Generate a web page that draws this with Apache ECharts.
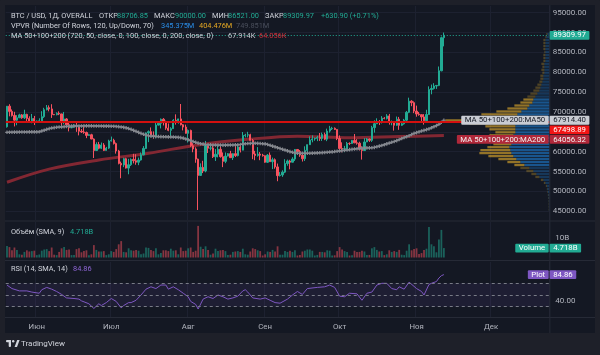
<!DOCTYPE html>
<html>
<head>
<meta charset="utf-8">
<script src="https://cdn.jsdelivr.net/npm/echarts@6/dist/echarts.min.js"></script>
<style>
html,body{margin:0;padding:0;background:#1e2029;overflow:hidden}
#chart{width:600px;height:355px}
</style>
</head>
<body>
<div id="chart"></div>
<script>
// ---------------- data ----------------
const startDay = '2024-05-20';
const axisDays = 219;
const monthNames = ['Янв','Фев','Мар','Апр','Май','Июн','Июл','Авг','Сен','Окт','Ноя','Дек'];
const priceTicks = [45000,50000,55000,60000,65000,70000,75000,80000,85000,90000,95000];
const volumeTicks = [10];
const rsiTicks = [40];
const rsiBands = [70, 50, 30];
const horizontalLevel = 67498.89;

// daily candles: [open, high, low, close]
const candles = [
[66270,71500,66060,71450],[71450,71950,68900,70140],[70140,70630,68830,69120],[69120,70040,66350,67930],
[67930,69200,66650,68530],[68530,69550,68500,69260],[69260,69480,68280,68520],[68520,70560,68240,69390],
[69390,69550,67290,68360],[68360,68900,67450,67630],[67630,69500,67150,68350],[68350,69000,66700,67490],
[67490,67850,67400,67710],[67710,68400,67300,67750],[67750,70200,67600,68800],[68800,71050,68500,70570],
[70570,71750,70400,71080],[71080,71650,70150,70760],[70760,71950,68500,69340],[69340,69500,69200,69310],
[69310,69900,69150,69650],[69650,70150,69200,69500],[69500,69550,66100,67320],[67320,70000,66900,68240],
[68240,68450,66200,66750],[66750,67300,65100,66010],[66010,66450,65900,66190],[66190,66950,66050,66640],
[66640,67250,65000,66490],[66490,66550,64100,65150],[65150,65700,64700,64960],[64960,66450,64500,64830],
[64830,65050,63400,64100],[64100,64500,63950,64260],[64260,64500,63150,63180],[63180,63350,58400,60280],
[60280,62350,60200,61800],[61800,62450,60600,60860],[60860,62300,60650,61670],[61670,62150,60150,60320],
[60320,61200,60250,60890],[60890,63000,60650,62680],
[62680,63800,62550,62850],[62850,63250,61800,62030],[62030,62300,59500,60170],[60170,60450,56800,57040],
[57040,57500,53300,56660],[56660,58450,56100,58230],[58230,58450,55750,55860],[55860,58200,54300,56710],
[56710,58300,56400,58050],[58050,59450,57050,57720],[57720,59350,56700,57340],[57340,58500,56600,57890],
[57890,59800,57750,59200],[59200,61400,59100,60800],[60800,64850,60650,64720],[64720,65350,62400,65040],
[65040,66100,63900,64090],[64090,65100,63250,63990],[63990,67400,63350,66690],[66690,67600,66600,67150],
[67150,68350,65850,68160],[68160,68450,66600,67580],[67580,67800,65500,65930],[65930,67100,65150,65370],
[65370,66150,63500,65800],[65800,68200,65750,67900],[67900,69400,66800,67810],[67810,68300,67050,68250],
[68250,72000,66600,66780],[66780,66950,65350,66190],[66190,66800,64550,64620],
[64620,65600,62300,65350],[65350,65550,61200,61500],[61500,62150,59850,60680],[60680,61100,57200,58120],
[58120,58250,45300,54020],[54020,57050,53900,56040],[56040,57700,54600,55130],[55130,62700,54800,61700],
[61700,61750,59650,60880],[60880,61450,60300,60940],[60940,61800,58400,58710],[58710,60650,57650,59350],
[59350,61550,58550,60600],[60600,61750,58500,58740],[58740,59800,56100,57560],[57560,59800,57100,58880],
[58880,59650,58800,59480],[59480,60200,58450,58480],[58480,59600,57900,59490],[59490,61400,58650,59010],
[59010,61800,58800,61160],[61160,61400,59800,60380],[60380,64950,60350,64090],[64090,64500,63600,64180],
[64180,65000,63600,64250],[64250,64500,62800,62840],[62840,63200,58100,59420],[59420,60200,57850,59040],
[59040,61150,58750,59370],[59370,59900,57850,59120],[59120,59450,58750,58970],
[58970,59050,57200,57330],[57330,59400,57150,59130],[59130,59800,57450,57480],[57480,58500,55600,57970],
[57970,58300,55700,56160],[56160,57000,52550,53960],[53960,54850,53750,54140],[54140,55300,53650,54840],
[54840,58100,54600,57020],[57020,58000,56450,57650],[57650,57950,55550,57340],[57340,58600,57300,58130],
[58130,60650,57650,60550],[60550,60650,59450,60000],[60000,60400,58700,59130],[59130,59200,57500,58210],
[58210,61350,57650,60310],[60310,61800,59250,61760],[61760,63850,61700,62950],[62950,64100,62350,63200],
[63200,63550,62750,63350],[63350,64000,62650,63580],[63580,64700,62700,63330],[63330,64800,62700,64300],
[64300,64800,62900,63140],[63140,65800,62650,65180],[65180,66500,64800,65790],[65790,66250,65450,65890],
[65890,66100,65450,65600],[65600,65650,62900,63330],
[63330,64100,60200,60800],[60800,62350,59850,60650],[60650,61450,59850,60750],[60750,62450,60500,62070],
[62070,62350,61650,62060],[62060,62950,61950,62820],[62820,64450,62150,62220],[62220,63150,61750,62130],
[62130,62500,60300,60580],[60580,61300,58000,60270],[60270,63400,60200,62440],[62440,63450,62400,63190],
[63190,63300,62450,62850],[62850,66500,62450,66050],[66050,67900,64800,67040],[67040,68400,66950,67610],
[67610,67950,66700,67370],[67370,68950,67100,68420],[68420,68700,68150,68360],[68360,69450,68100,69000],
[69000,69500,66800,67370],[67370,67850,66650,67380],[67380,67450,65300,66650],[66650,68850,66500,68160],
[68160,68750,65500,66640],[66640,67450,66500,67010],[67010,68250,66800,67930],[67930,70250,67500,69910],
[69910,73600,69700,72720],[72720,72950,71450,72340],[72340,72650,69700,70220],
[70220,71600,68800,69490],[69490,70000,69050,69320],[69320,69350,67500,68750],[68750,69450,66800,67800],
[67800,70550,67450,69360],[69360,76450,69300,75640],[75640,76900,74450,75900],[75900,77250,75650,76540],
[76540,76800,75800,76680],[76680,81450,76500,80370],[80370,89000,80250,88706.85],[88706.85,90000,86521,89309.97]
];

// daily volume, billions
const volumes = [
5.8,5.2,3.6,5.0,3.8,1.6,1.4,2.8,3.6,3.0,3.2,3.4,
1.2,1.5,3.4,4.0,4.2,3.2,5.0,1.4,1.2,2.8,4.6,5.2,3.8,4.0,1.2,1.3,4.2,4.6,2.6,3.2,3.6,1.1,1.6,6.2,3.8,3.0,3.0,3.2,1.2,1.6,
3.2,2.8,4.2,6.6,8.2,2.8,2.6,4.6,3.6,3.4,3.8,3.4,1.6,2.0,5.0,4.8,3.8,3.2,4.6,1.6,2.2,3.6,3.6,3.2,4.4,3.4,3.6,1.6,5.0,3.2,3.4,
4.6,5.0,2.8,3.4,15.8,5.4,4.2,5.6,3.8,1.4,2.0,4.4,3.2,3.6,3.8,3.2,1.2,1.4,2.8,3.0,3.2,2.8,4.4,1.6,1.4,3.0,4.6,4.2,3.6,3.2,1.0,
1.6,3.0,2.8,3.8,3.0,5.6,1.4,1.4,3.2,2.8,3.4,2.8,3.6,1.0,1.3,3.0,3.4,4.0,4.0,3.4,1.0,1.3,2.8,2.8,2.6,3.6,3.4,1.0,1.1,3.2,
5.2,4.0,3.2,2.8,1.0,1.1,3.4,2.8,2.8,3.4,3.0,1.2,1.3,4.6,5.2,3.8,3.0,3.2,1.2,1.6,3.6,2.8,3.2,2.8,3.8,1.4,1.2,3.4,6.6,3.6,4.2,
4.6,1.8,2.2,3.8,4.4,15.2,6.6,5.6,2.6,9.0,13.8,4.718
];

// MA 50 (daily)
const ma50 = [
64870,64880,64900,64910,64930,64940,64950,64950,64960,64970,64970,64980,64990,65000,
65200,65400,65600,65800,65950,
66050,66150,66200,66250,66300,66350,66400,66420,66450,66460,66470,
66480,66490,66500,66500,66490,66480,66470,66460,66450,66440,66430,66420,66400,66380,66350,
66300,66220,66120,66000,65820,65600,65350,65100,64850,64600,64380,64200,64000,
63900,63850,63820,63800,63780,63760,63740,63720,63700,63680,63640,63600,63540,
63400,63200,63000,62800,62550,62350,62150,62000,61900,61800,
61750,61700,61680,61660,61650,61640,61640,61650,61660,61670,61680,61700,61720,
61800,61900,62000,62050,62080,62100,62100,62080,62050,62000,61950,
61800,61600,61400,61200,61000,60800,60600,60400,60200,60000,59850,59700,59600,
59580,59570,59570,59580,59600,59620,59650,59680,59720,59760,59800,59850,59900,59950,
60020,60100,60180,60260,60340,60420,60500,60580,60660,60740,60820,60880,60920,
60940,60960,60990,61070,61230,61400,61560,61750,61970,62170,62370,62560,62770,63050,63300,63550,
63760,64010,64320,64600,64800,64990,65200,65370,65560,65740,66010,66280,66550,66890,67390,67914.40
];

// MA 200 (read at sample dates)
const ma200Points = [
['05-20',52300],['06-06',55600],['06-26',57900],['07-16',59600],['08-05',61700],
['08-25',63100],['09-14',63900],['10-05',63500],['10-25',63800],['11-12',64056.32]
];

// RSI 14 (read at sample dates)
const rsiPoints = [
['05-20',67],['05-22',61],['05-25',57],['05-28',57],['05-30',55],['06-02',53],['06-03',59],['06-05',63],
['06-07',60],['06-09',56],['06-11',51],['06-13',45],['06-16',44],['06-18',43],['06-19',40],['06-22',35],
['06-24',27],['06-26',35],['06-27',32],['06-29',37],['07-01',44],['07-03',39],['07-05',28],['07-06',32],
['07-08',37],['07-09',37],['07-11',41],['07-13',50],['07-15',60],['07-17',64],['07-19',61],['07-21',67],
['07-23',67],['07-24',60],['07-26',64],['07-28',59],['07-30',53],['08-01',47],['08-02',39],['08-04',34],
['08-05',26],['08-07',43],['08-09',47],['08-11',44],['08-13',50],['08-15',47],['08-17',43],['08-19',45],
['08-21',48],['08-23',57],['08-24',59],['08-25',55],['08-27',45],['08-30',43],['09-01',45],['09-03',41],
['09-05',37],['09-07',36],['09-10',43],['09-12',50],['09-14',56],['09-16',51],['09-18',61],['09-22',63],
['09-25',64],['09-27',67],['09-29',63],['10-01',48],['10-03',47],['10-05',53],['10-08',52],['10-10',41],
['10-12',53],['10-14',55],['10-16',67],['10-18',70],['10-20',70],['10-22',61],['10-24',59],['10-25',64],
['10-27',60],['10-29',72],['11-01',61],['11-03',56],['11-04',50],['11-06',68],['11-07',70],['11-09',73],
['11-10',79],['11-11',83],['11-12',84.86]
];

// Visible-range volume profile: rows of 750 from 45000, up / down volume (relative)
const vpvrStart = 45000, vpvrStep = 750;
const vpvrUp = [0.5,0.5,0.5,0.6,0.8,1,1.5,2,2.5,4, 6,10,13,16,20,25,29,33,36,38, 39,40,38,40,39,36,34,34,34,35,
  34,33,32,28,22,20,17,16,14,12, 10,9,8,7,6,6,5,5,5,5, 4,4,4,4,4,4,4,4,3,2];
const vpvrDown = [0.3,0.3,0.3,0.3,0.4,0.5,0.5,0.5,1,1.5, 2.5,4,5,7,9,10,13,18,25,32, 30,22,18,25,28,24,20,26,30,45,
  70,50,36,25,20,15,12,10,8,7, 6,5,4,3,3,3,2,3,2,3, 2,2,2,1,2,2,2,2,1,1];
const valueArea = [56250, 73500];

// ---------------- build ----------------
const FONT = 'Roboto, "Noto Sans", sans-serif';
const UP = '#22ab94', DOWN = '#f7525f';
const TEXT = '#d1d4dc', AXIS_TEXT = '#b2b5be', GRID = '#1d2130';
const PRICE_MIN = 42784, PRICE_MAX = 96688;
const L = 5.76, W = 543.6;

const day0 = Date.parse(startDay + 'T00:00:00Z');
const categories = [];
for (let i = 0; i < axisDays; i++) categories.push(new Date(day0 + i * 864e5).toISOString().slice(0, 10));
const dayIndex = md => Math.round((Date.parse('2024-' + md + 'T00:00:00Z') - day0) / 864e5);
const isMonthStart = (idx, val) => String(val).slice(8) === '01';

const candleData = candles.map(c => [c[0], c[3], c[2], c[1]]);
const volumeData = volumes.map((v, i) => ({
  value: v,
  itemStyle: { color: candles[i][3] >= candles[i][0] ? 'rgba(34,171,148,0.5)' : 'rgba(247,82,95,0.5)' }
}));
const ma200Data = new Array(candles.length).fill(null);
ma200Points.forEach(([d, v]) => { ma200Data[dayIndex(d)] = v; });
const rsiData = new Array(candles.length).fill(null);
rsiPoints.forEach(([d, v]) => { rsiData[dayIndex(d)] = v; });
const vpvrData = vpvrUp.map((u, k) => [vpvrStart + k * vpvrStep, vpvrStart + (k + 1) * vpvrStep, u, vpvrDown[k]]);

function renderVp(params, api) {
  const lo = api.value(0), hi = api.value(1), up = api.value(2), dn = api.value(3);
  const a = api.coord([0, hi]);
  const b = api.coord([up, lo]);
  const c = api.coord([up + dn, lo]);
  const inVA = lo >= valueArea[0] && hi <= valueArea[1];
  const y = a[1] + 0.35, h = Math.max(0.5, b[1] - a[1] - 0.7);
  return { type: 'group', children: [
    { type: 'rect', shape: { x: b[0], y: y, width: a[0] - b[0], height: h },
      style: { fill: inVA ? 'rgba(30,136,229,0.55)' : 'rgba(30,136,229,0.28)' } },
    { type: 'rect', shape: { x: c[0], y: y, width: b[0] - c[0], height: h },
      style: { fill: inVA ? 'rgba(251,192,45,0.55)' : 'rgba(251,192,45,0.26)' } }
  ]};
}

function xAxisFor(gi, showLabel) {
  return {
    type: 'category', gridIndex: gi, data: categories, boundaryGap: true,
    axisLine: { show: false }, axisTick: { show: false },
    axisLabel: { show: showLabel, interval: isMonthStart, formatter: v => monthNames[+v.slice(5, 7) - 1],
      color: AXIS_TEXT, fontSize: 7.8, fontFamily: FONT, margin: 6 },
    splitLine: { show: true, interval: isMonthStart, lineStyle: { color: GRID, width: 1 } }
  };
}
const gridBase = { left: L, width: W, outerBoundsMode: 'none', containLabel: false };

const chart = echarts.init(document.getElementById('chart'), null, { width: 600, height: 355 });
chart.setOption({
  animation: false,
  backgroundColor: '#141823',
  grid: [
    Object.assign({ top: 6, height: 214 }, gridBase),
    Object.assign({ top: 222, height: 35.5 }, gridBase),
    Object.assign({ top: 262, height: 55 }, gridBase),
    Object.assign({ top: 6, height: 214 }, gridBase)
  ],
  xAxis: [
    xAxisFor(0, false), xAxisFor(1, false), xAxisFor(2, true),
    { type: 'value', gridIndex: 3, inverse: true, min: 0, max: W, show: false }
  ],
  yAxis: [
    { type: 'value', gridIndex: 0, position: 'right', min: PRICE_MIN, max: PRICE_MAX,
      axisLine: { show: false }, axisTick: { show: false, customValues: priceTicks },
      axisLabel: { customValues: priceTicks, formatter: v => v.toFixed(2), color: AXIS_TEXT, fontSize: 8, fontFamily: FONT, margin: 3.5 },
      splitLine: { show: true, lineStyle: { color: GRID, width: 1 } } },
    { type: 'value', gridIndex: 1, position: 'right', min: 0, max: 17.75,
      axisLine: { show: false }, axisTick: { show: false, customValues: volumeTicks },
      axisLabel: { customValues: volumeTicks, formatter: v => v + 'B', color: AXIS_TEXT, fontSize: 8, fontFamily: FONT, margin: 6 },
      splitLine: { show: false } },
    { type: 'value', gridIndex: 2, position: 'right', min: 12.4, max: 106.4,
      axisLine: { show: false }, axisTick: { show: false, customValues: rsiTicks },
      axisLabel: { customValues: rsiTicks, formatter: v => v.toFixed(2), color: AXIS_TEXT, fontSize: 8, fontFamily: FONT, margin: 6 },
      splitLine: { show: false } },
    { type: 'value', gridIndex: 3, min: PRICE_MIN, max: PRICE_MAX, show: false }
  ],
  series: [
    { type: 'custom', name: 'VPVR', xAxisIndex: 3, yAxisIndex: 3, data: vpvrData, renderItem: renderVp,
      encode: { x: 2, y: 0 }, silent: true, z: 1, clip: false },
    { type: 'line', name: 'MA200', xAxisIndex: 0, yAxisIndex: 0, data: ma200Data, connectNulls: true, smooth: 0.35,
      showSymbol: false, lineStyle: { color: '#8e2934', width: 3, opacity: 0.9 }, z: 2, silent: true },
    { type: 'candlestick', name: 'BTC', xAxisIndex: 0, yAxisIndex: 0, data: candleData, barWidth: '72%', z: 3,
      itemStyle: { color: UP, color0: DOWN, borderColor: UP, borderColor0: DOWN, borderWidth: 1 },
      markLine: { symbol: ['none', 'none'], silent: true, animation: false, label: { show: false },
        data: [
          { yAxis: candles[candles.length - 1][3], lineStyle: { color: UP, type: [1, 2], width: 1 } },
          { yAxis: horizontalLevel, lineStyle: { color: '#d3100f', type: 'solid', width: 2 } }
        ] } },
    { type: 'line', name: 'MA50', xAxisIndex: 0, yAxisIndex: 0, data: ma50, showSymbol: true, showAllSymbol: true,
      symbol: 'path://M1,0H2V1H3V2H2V3H1V2H0V1H1Z', symbolSize: 3.6,
      itemStyle: { color: '#85888f' }, lineStyle: { color: '#6f727a', width: 1.5 }, z: 4, silent: true },
    { type: 'bar', name: 'Volume', xAxisIndex: 1, yAxisIndex: 1, data: volumeData, barWidth: '72%', silent: true },
    { type: 'line', name: 'RSI', xAxisIndex: 2, yAxisIndex: 2, data: rsiData, connectNulls: true, showSymbol: false,
      lineStyle: { color: '#7e57c2', width: 1 }, silent: true,
      markArea: { silent: true, itemStyle: { color: 'rgba(126,87,194,0.1)' }, data: [[{ yAxis: rsiBands[2] }, { yAxis: rsiBands[0] }]] },
      markLine: { symbol: ['none', 'none'], silent: true, label: { show: false },
        lineStyle: { color: '#787b86', type: [3, 3], width: 1 },
        data: rsiBands.map(v => ({ yAxis: v })) } }
  ]
});

// ---------------- overlay graphics ----------------
const mctx = document.createElement('canvas').getContext('2d');
function measure(s, size, weight) { mctx.font = (weight || 'normal') + ' ' + size + 'px ' + FONT; return mctx.measureText(s).width; }
function txt(x, y, s, color, size, align, weight) {
  return { type: 'text', x: x, y: y, z: 100, silent: true,
    style: { text: s, fill: color, font: (weight || 'normal') + ' ' + size + 'px ' + FONT,
      textAlign: align || 'left', textVerticalAlign: 'middle', align: align || 'left', verticalAlign: 'middle' } };
}
function rect(x, y, w, h, fill, z) {
  return { type: 'rect', z: z || 90, silent: true, shape: { x: x, y: y, width: w, height: h, r: 1 }, style: { fill: fill } };
}
const G = [];
// outer frame
G.push(rect(0, 0, 600, 5, '#1e2029', 80), rect(0, 0, 5, 355, '#1e2029', 80), rect(595, 0, 5, 355, '#1e2029', 80), rect(0, 333, 600, 22, '#1e2029', 80));
// pane separators and price-scale border
G.push({ type: 'line', z: 85, silent: true, shape: { x1: 5, y1: 221, x2: 595, y2: 221 }, style: { stroke: '#262a36', lineWidth: 1 } });
G.push({ type: 'line', z: 85, silent: true, shape: { x1: 5, y1: 260.5, x2: 595, y2: 260.5 }, style: { stroke: '#262a36', lineWidth: 1 } });
G.push({ type: 'line', z: 85, silent: true, shape: { x1: 5, y1: 317.5, x2: 595, y2: 317.5 }, style: { stroke: '#262a36', lineWidth: 1 } });
G.push({ type: 'line', z: 85, silent: true, shape: { x1: L + W + 0.5, y1: 5, x2: L + W + 0.5, y2: 333 }, style: { stroke: '#262a36', lineWidth: 1 } });

// header legend (positions as in the reference)
const HS = 7.4;
G.push(txt(11, 16, 'BTC / USD, 1Д, OVERALL', TEXT, HS));
G.push(txt(99, 16, 'ОТКР', TEXT, HS), txt(117, 16, '88706.85', UP, HS));
G.push(txt(154, 16, 'МАКС', TEXT, HS), txt(175, 16, '90000.00', UP, HS));
G.push(txt(212, 16, 'МИН', TEXT, HS), txt(228, 16, '86521.00', UP, HS));
G.push(txt(265, 16, 'ЗАКР', TEXT, HS), txt(283, 16, '89309.97', UP, HS));
G.push(txt(321, 16, '+630.90 (+0.71%)', UP, HS));
G.push(txt(11, 26, 'VPVR (Number Of Rows, 120, Up/Down, 70)', TEXT, HS));
G.push(txt(161, 26, '345.375M', '#2a8de8', HS), txt(199, 26, '404.476M', '#e5a823', HS), txt(236, 26, '749.851M', '#4a4f5c', HS));
G.push(txt(11, 36, 'MA 50+100+200 (720, 50, close, 0, 100, close, 0, 200, close, 0)', TEXT, HS));
G.push(txt(228, 36, '67.914K', '#c7cad1', HS), txt(259, 36, '64.056K', '#d0303a', HS));
G.push(txt(11, 232, 'Объём (SMA, 9)', TEXT, HS), txt(70, 232, '4.718B', UP, HS));
G.push(txt(11, 269, 'RSI (14, SMA, 14)', TEXT, HS), txt(73, 269, '84.86', '#8f66d6', HS));

// scale labels
const BX = L + W + 0.3, BH = 8.8, BS = 7.8;
function valueBox(yc, s, bg, fg) {
  const w = measure(s, BS) + 7;
  G.push(rect(BX, yc - BH / 2, w, BH, bg, 95), Object.assign(txt(BX + w / 2, yc + 0.2, s, fg, BS, 'center'), { z: 96 }));
}
function nameBox(yc, s, bg, fg) {
  const w = measure(s, BS) + 7;
  G.push(rect(BX - 1 - w, yc - BH / 2, w, BH, bg, 95), Object.assign(txt(BX - 1 - w / 2, yc + 0.2, s, fg, BS, 'center'), { z: 96 }));
}
const py = v => chart.convertToPixel({ yAxisIndex: 0 }, v);
const lastClose = candles[candles.length - 1][3];
valueBox(py(lastClose), lastClose.toFixed(2), UP, '#ffffff');

const stack = [
  { v: ma50[ma50.length - 1], name: 'MA 50+100+200:MA50', bg: '#c9ccd3', fg: '#131722' },
  { v: horizontalLevel, name: null, bg: '#f21515', fg: '#ffffff' },
  { v: ma200Points[ma200Points.length - 1][1], name: 'MA 50+100+200:MA200', bg: '#b0283a', fg: '#f2f2f2' }
].sort((a, b) => b.v - a.v);
let prev = -1e9;
stack.forEach(s => {
  let y = py(s.v);
  if (y < prev + BH + 0.8) y = prev + BH + 0.8;
  prev = y;
  valueBox(y, s.v.toFixed(2), s.bg, s.fg);
  if (s.name) nameBox(y, s.name, s.bg, s.fg);
});

const vy = chart.convertToPixel({ yAxisIndex: 1 }, volumes[volumes.length - 1]);
valueBox(vy, volumes[volumes.length - 1].toFixed(3) + 'B', UP, '#ffffff');
nameBox(vy, 'Volume', UP, '#ffffff');
const lastRsi = rsiPoints[rsiPoints.length - 1][1];
const ry = chart.convertToPixel({ yAxisIndex: 2 }, lastRsi);
valueBox(ry, lastRsi.toFixed(2), '#7e57c2', '#ffffff');
nameBox(ry, 'Plot', '#7e57c2', '#ffffff');

// TradingView logo
G.push(rect(6, 340, 5, 2.2, TEXT, 101), rect(8.7, 340, 2.3, 7, TEXT, 101));
G.push({ type: 'circle', z: 101, silent: true, shape: { cx: 13.2, cy: 341.2, r: 1.2 }, style: { fill: TEXT } });
G.push({ type: 'polygon', z: 101, silent: true, shape: { points: [[14.6, 347], [17.2, 340], [19.6, 340], [17.0, 347]] }, style: { fill: TEXT } });
G.push(Object.assign(txt(21, 344, 'TradingView', TEXT, 8), { z: 101 }));

chart.setOption({ graphic: { elements: G } });
</script>
</body>
</html>
